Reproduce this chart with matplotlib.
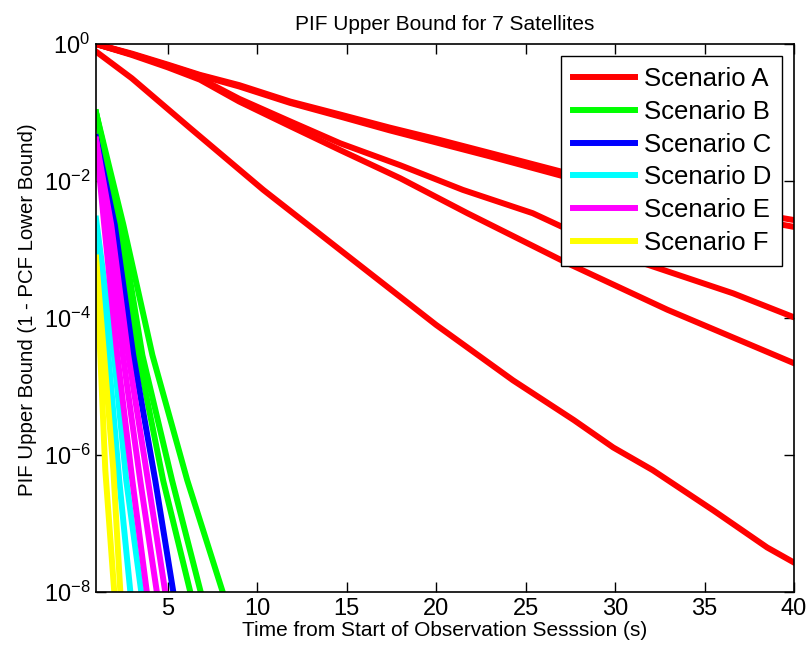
"""
PIF upper bound vs observation time, 7 satellites
"""

import matplotlib
matplotlib.use("Agg")
import matplotlib.pyplot as plt
import numpy as np

plt.rcParams['font.family'] = ['Liberation Sans', 'DejaVu Sans']
plt.rcParams['mathtext.fontset'] = 'custom'
plt.rcParams['mathtext.rm'] = 'Liberation Sans'

# values: time (s) and log10 of the bound
# Scenario A (red), five curves
a_t1 = [1, 3, 5, 6.8, 9, 11.85, 14.65, 17.4, 20.2, 23, 27.1, 31, 35, 40]
a_p1 = [0, -0.14, -0.30, -0.45, -0.60, -0.84, -1.03, -1.22, -1.40, -1.59, -1.87, -2.10, -2.35, -2.57]
a_t2 = [1, 3, 5, 6.8, 9, 11.85, 14.65, 17.4, 20.2, 23, 27.1, 31, 35, 40]
a_p2 = [0, -0.15, -0.31, -0.46, -0.62, -0.86, -1.06, -1.26, -1.45, -1.64, -1.93, -2.18, -2.43, -2.67]
a_t3 = [1, 3, 5, 6.8, 9, 11.85, 14.65, 18, 21.5, 25.4, 31, 36.6, 40]
a_p3 = [0, -0.15, -0.32, -0.50, -0.80, -1.13, -1.45, -1.77, -2.13, -2.47, -3.15, -3.64, -3.99]
a_t4 = [1, 3, 5, 6.8, 9, 11.85, 14.65, 18, 21.75, 27.34, 32.93, 40]
a_p4 = [0, -0.16, -0.34, -0.52, -0.84, -1.20, -1.55, -1.96, -2.47, -3.20, -3.88, -4.66]
a_t5 = [1, 3, 6.27, 10.35, 15, 20, 24.3, 27.7, 29.9, 32.1, 35.5, 38.5, 40]
a_p5 = [-0.11, -0.50, -1.23, -2.13, -3.08, -4.10, -4.91, -5.49, -5.89, -6.22, -6.81, -7.35, -7.57]

# Scenario B (green)
b_t1 = [1, 2.25, 3.36, 4.75, 6.27]
b_t2 = [1, 2.40, 3.59, 5.25, 6.85]
b_t3 = [1, 2.53, 4.15, 6.10, 8.08]
b_p = [-1.0, -2.64, -4.54, -6.37, -8.0]

# Scenario C (blue)
c_t1 = [1, 2.05, 3.08, 4.31, 5.32]
c_p = [-1.36, -2.64, -4.54, -6.37, -8.0]

# Scenario D (cyan)
d_t1 = [1, 1.69, 2.30, 2.92]
d_p1 = [-2.65, -4.54, -6.37, -8.0]
d_t2 = [1, 2.0, 2.69, 3.53]
d_p2 = [-2.55, -4.54, -6.37, -8.0]

# Scenario E (magenta)
e_t1 = [1, 1.46, 2.19, 3.03, 3.84]
e_t2 = [1, 1.70, 2.50, 3.47, 4.40]
e_t3 = [1, 1.85, 2.80, 3.90, 4.87]
e_p = [-1.40, -2.64, -4.54, -6.37, -8.0]

# Scenario F (yellow)
f_t1 = [1, 1.24, 1.52, 2.02]
f_t2 = [1, 1.45, 1.97, 2.36]
f_p = [-3.12, -4.54, -6.22, -8.0]

scenarios = [
    ('Scenario A', '#ff0000', [(a_t1, a_p1), (a_t2, a_p2), (a_t3, a_p3), (a_t4, a_p4), (a_t5, a_p5)]),
    ('Scenario B', '#00ff00', [(b_t1, b_p), (b_t2, b_p), (b_t3, b_p)]),
    ('Scenario C', '#0000ff', [(c_t1, c_p)]),
    ('Scenario D', '#00ffff', [(d_t1, d_p1), (d_t2, d_p2)]),
    ('Scenario E', '#ff00ff', [(e_t1, e_p), (e_t2, e_p), (e_t3, e_p)]),
    ('Scenario F', '#ffff00', [(f_t1, f_p), (f_t2, f_p)]),
]

fig = plt.figure(figsize=(8.09, 6.51), dpi=100)
ax = fig.add_axes([96/809, 59/651, 698/809, 548/651])

for name, col, curves in scenarios:
    for i, (t, p) in enumerate(curves):
        ax.semilogy(t, 10.0**np.array(p), color=col, lw=4.3,
                    label=name if i == 0 else '_nolegend_')

ax.set_xlim(1, 40)
ax.set_ylim(1e-8, 1e0)
ax.set_xticks([5, 10, 15, 20, 25, 30, 35, 40])
ax.set_yticks([1e-8, 1e-6, 1e-4, 1e-2, 1e0])
ax.minorticks_off()
ax.tick_params(direction='in', length=7, width=1, top=True, right=True,
               labelsize=17, pad=4)
for s in ax.spines.values():
    s.set_linewidth(1.2)

ax.set_title('PIF Upper Bound for 7 Satellites', fontsize=15, pad=10)
ax.set_xlabel('Time from Start of Observation Sesssion (s)', fontsize=15, labelpad=1)
ax.set_ylabel('PIF Upper Bound (1 - PCF Lower Bound)', fontsize=14.7)
ax.yaxis.set_label_coords(-0.085, 0.516)

leg = ax.legend(loc='upper right', fontsize=18.5, fancybox=False, framealpha=1,
                edgecolor='black', handlelength=2.4, handletextpad=0.35,
                labelspacing=0.34, borderaxespad=0.45, borderpad=0.45)
leg.get_frame().set_linewidth(1.0)

plt.savefig('out.png', dpi=100)
